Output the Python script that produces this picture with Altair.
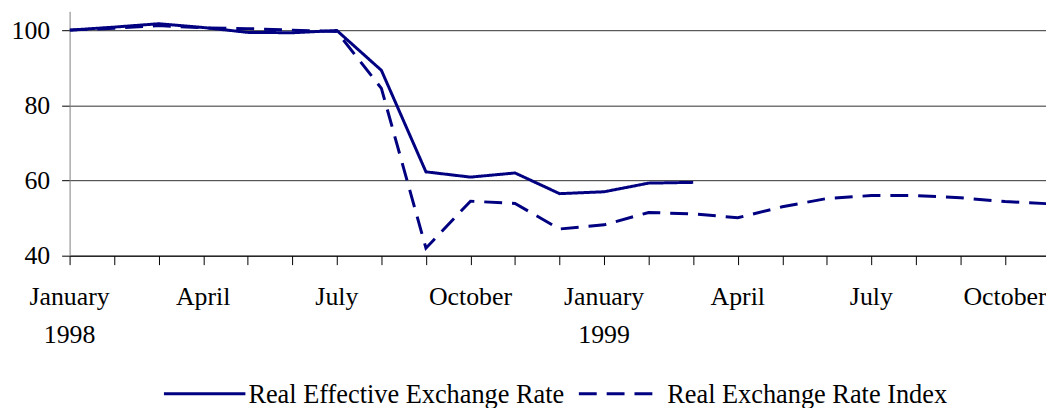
import altair as alt
import pandas as pd

# Month index 0 = January 1998 ... 22 = November 1999
months = list(range(23))
reer = [100.0, 100.8, 101.7, 100.7, 99.4, 99.3, 99.9, 89.3, 62.3, 60.9, 62.0, 56.5,
        57.0, 59.3, 59.5, None, None, None, None, None, None, None, None]
rer_index = [100.0, 100.5, 101.2, 100.6, 100.4, 100.0, 99.6, 84.5, 42.0, 54.5, 53.9, 47.1,
             48.2, 51.5, 51.1, 50.1, 53.0, 55.2, 56.0, 56.0, 55.4, 54.4, 53.8]
series_names = ["Real Effective Exchange Rate", "Real Exchange Rate Index"]

tick_months = [0, 3, 6, 9, 12, 15, 18, 21]
tick_labels = ["January\n1998", "April", "July", "October", "January\n1999", "April", "July", "October"]

rows = []
for m, a, b in zip(months, reer, rer_index):
    if a is not None:
        rows.append({"month": m, "value": a, "series": series_names[0]})
    if b is not None:
        rows.append({"month": m, "value": b, "series": series_names[1]})
df = pd.DataFrame(rows)
lab_df = pd.DataFrame({"month": tick_months, "label": tick_labels})

FONT = "Liberation Serif"
NAVY = "#000080"
SOLID = [1, 0]
DASH = [18, 10]
W, H = 983, 246
XMAX = 21.92

xscale = alt.Scale(domain=[0, XMAX], nice=False, zero=False)
yscale = alt.Scale(domain=[40, 105], nice=False, zero=False)

lines = alt.Chart(df).mark_line(clip=True, strokeWidth=3, color=NAVY).encode(
    x=alt.X("month:Q", scale=xscale,
            axis=alt.Axis(values=months[:22], labels=False, title=None, grid=False,
                          tickSize=9, tickColor="black", domainColor="black",
                          domainWidth=1)),
    y=alt.Y("value:Q", scale=yscale,
            axis=alt.Axis(values=[40, 60, 80, 100], title=None, grid=True,
                          gridColor="#303030", gridWidth=1, tickSize=8, tickColor="black",
                          domainColor="#808080", labelFont=FONT, labelFontSize=26,
                          labelColor="black", labelPadding=12)),
    strokeDash=alt.StrokeDash("series:N",
        scale=alt.Scale(domain=series_names, range=[SOLID, DASH]), legend=None),
)

labels = alt.Chart(lab_df).mark_text(font=FONT, fontSize=26, color="black", align="center",
                                     baseline="alphabetic", lineBreak="\n", lineHeight=38).encode(
    x=alt.X("month:Q", scale=xscale),
    y=alt.value(296),
    text="label:N",
)

# manual legend
leg1 = pd.DataFrame({"name": [series_names[0]]})
leg2 = pd.DataFrame({"name": [series_names[1]]})
sym1 = alt.Chart(leg1).mark_rule(color=NAVY, strokeWidth=3).encode(
    x=alt.value(95), x2=alt.value(177), y=alt.value(385))
txt1 = alt.Chart(leg1).mark_text(font=FONT, fontSize=26.5, color="black", align="left",
                                 baseline="alphabetic").encode(
    x=alt.value(180), y=alt.value(394), text="name:N")
sym2 = alt.Chart(leg2).mark_rule(color=NAVY, strokeWidth=3, strokeDash=DASH).encode(
    x=alt.value(512.7), x2=alt.value(586.7), y=alt.value(385))
txt2 = alt.Chart(leg2).mark_text(font=FONT, fontSize=26.5, color="black", align="left",
                                 baseline="alphabetic").encode(
    x=alt.value(601.7), y=alt.value(394), text="name:N")

chart = alt.layer(lines, labels, sym1, txt1, sym2, txt2).properties(
    width=W, height=H,
    autosize=alt.AutoSizeParams(type="none"),
    padding={"left": 62, "top": 2, "right": 0, "bottom": 152},
    background="white",
).configure_view(stroke=None)

chart.save("out.html", embed_options={"renderer": "svg", "actions": False})
